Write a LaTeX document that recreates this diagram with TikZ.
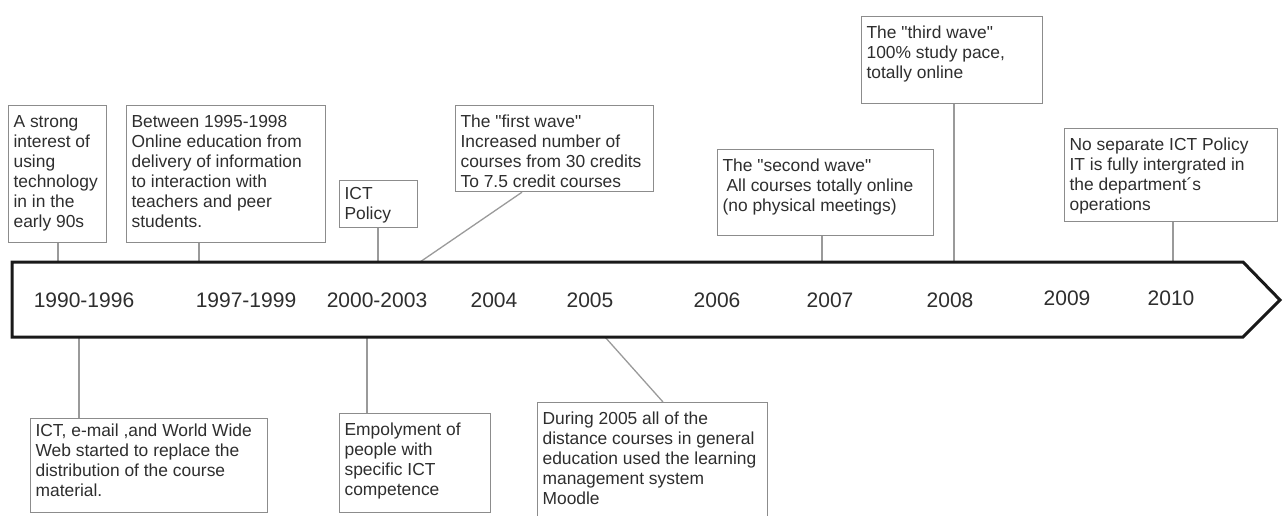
\documentclass[tikz,border=0pt]{standalone}
\usepackage{fontspec}
\setmainfont{Liberation Sans}
\definecolor{boxgray}{HTML}{8C8C8C}
\definecolor{txtgray}{HTML}{2E2E2E}
\definecolor{linegray}{HTML}{9A9A9A}
\newcommand{\evtxt}[3]{\parbox[t][#2][t]{#1}{\fontsize{17.4}{20}\selectfont\raggedright\strut #3}}
\newcommand{\qd}{\textquotedbl}
\tikzset{
  evbox/.style={draw=boxgray, line width=1.2pt, fill=white, inner xsep=5pt, inner ysep=8pt, anchor=north west, text=txtgray},
  yearlbl/.style={font=\fontsize{21}{24}\selectfont, text=txtgray, inner sep=0pt},
  link/.style={draw=linegray, line width=1.3pt},
  timeline/.style={draw=black!90, line width=3pt, fill=white, line join=miter}
}
\begin{document}
\begin{tikzpicture}[x=1pt,y=-1pt]
\clip (0,0) rectangle (1283,515);
% points on the timeline arrow
\coordinate (a1) at (58,262);
\coordinate (a2) at (199,262);
\coordinate (a3) at (378,262);
\coordinate (a4) at (420,262);
\coordinate (a5) at (822,262);
\coordinate (a6) at (954,262);
\coordinate (a7) at (1173,262);
\coordinate (d1) at (79,337);
\coordinate (d2) at (367,337);
\coordinate (d3) at (605,337);
% boxes
\node[evbox] (b1) at (8,105) {\evtxt{88pt}{121pt}{A strong\\interest of\\using\\technology\\in in the\\early 90s}};
\node[evbox] (b2) at (126,105) {\evtxt{189pt}{121pt}{Between 1995-1998\\Online education from\\delivery of information\\to interaction with\\teachers and peer\\students.}};
\node[evbox, inner ysep=5pt] (b3) at (339,180) {\evtxt{68pt}{37pt}{ICT\\Policy}};
\node[evbox] (b4) at (455,105) {\evtxt{188pt}{70pt}{The \qd first wave\qd\\Increased number of\\courses from 30 credits\\To 7.5 credit courses}};
\node[evbox] (b5) at (717,149) {\evtxt{206pt}{70pt}{The \qd second wave\qd\\\hspace*{4pt}All courses totally online\\(no physical meetings)}};
\node[evbox] (b6) at (861,16) {\evtxt{171pt}{71pt}{The \qd third wave\qd\\100\% study pace,\\totally online}};
\node[evbox] (b7) at (1064,128) {\evtxt{203pt}{77pt}{No separate ICT Policy\\IT is fully intergrated in\\the department´s\\operations}};
\node[evbox, inner ysep=4pt] (b8) at (30,418) {\evtxt{227pt}{86pt}{ICT, e-mail ,and World Wide\\Web started to replace the\\distribution of the course\\material.}};
\node[evbox] (b9) at (339,413) {\evtxt{141pt}{83pt}{Empolyment of\\people with\\specific ICT\\competence}};
\node[evbox] (b10) at (537,402) {\evtxt{220pt}{109pt}{During 2005 all of the\\distance courses in general\\education used the learning\\management system\\Moodle}};
% connectors
\draw[link] (b1.south -| a1) -- (a1);
\draw[link] (b2.south -| a2) -- (a2);
\draw[link] (b3.south -| a3) -- (a3);
\draw[link] ([xshift=67pt]b4.south west) -- (a4);
\draw[link] (b5.south -| a5) -- (a5);
\draw[link] (b6.south -| a6) -- (a6);
\draw[link] (b7.south -| a7) -- (a7);
\draw[link] (d1) -- (b8.north -| d1);
\draw[link] (d2) -- (b9.north -| d2);
\draw[link] (d3) -- ([xshift=126pt]b10.north west);
% timeline arrow
\draw[timeline] (12,262) -- (1243,262) -- (1280,300) -- (1243,337) -- (12,337) -- cycle;
% year labels
\node[yearlbl] (y1) at (84,300) {1990-1996};
\node[yearlbl] (y2) at (246,300) {1997-1999};
\node[yearlbl] (y3) at (377,300) {2000-2003};
\node[yearlbl] (y4) at (494,300) {2004};
\node[yearlbl] (y5) at (590,300) {2005};
\node[yearlbl] (y6) at (717,300) {2006};
\node[yearlbl] (y7) at (830,300) {2007};
\node[yearlbl] (y8) at (950,300) {2008};
\node[yearlbl] (y9) at (1067,298) {2009};
\node[yearlbl] (y10) at (1171,298) {2010};
\end{tikzpicture}
\end{document}
